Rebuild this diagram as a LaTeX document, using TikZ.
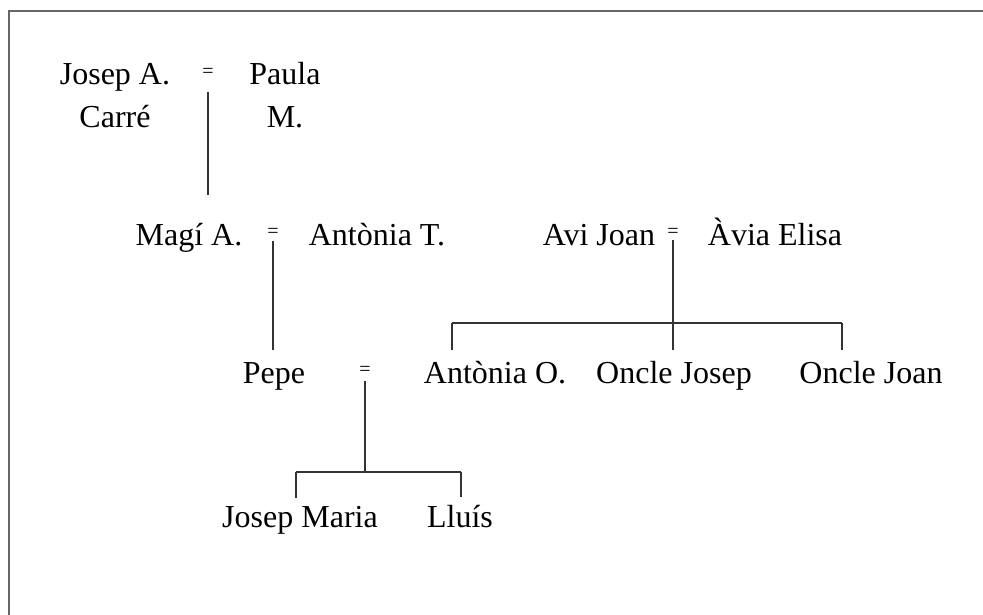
\documentclass[tikz,border=0pt]{standalone}
\usepackage{fontspec}
\setmainfont{Liberation Serif}
\usetikzlibrary{positioning}
\tikzset{
  person/.style={anchor=base,inner sep=0pt,align=center,font=\fontsize{32}{43}\selectfont},
  wed/.style={inner sep=0pt,font=\fontsize{20}{20}\selectfont},
  kin/.style={line width=1.2pt,draw=black!80},
}

\begin{document}
\begin{tikzpicture}[x=1pt,y=-1pt]
    \useasboundingbox (0,0) rectangle (983,615);
    % frame
    \draw[line width=1.6pt,black!60] (9,615) -- (9,11) -- (983,11);

    % first generation
    \node[person] (josep) at (115,128) {Josep A.\\Carr\'e};
    \node[wed] (w1) at (208,73) {=};
    \node[person] (paula) at (285,128) {Paula\\M.};

    % second generation
    \node[person] (magi) at (189,245) {Mag\'i A.};
    \node[wed] (w2) at (273,233) {=};
    \node[person] (antoniat) at (377,245) {Ant\`onia T.};
    \node[person] (avi) at (599,245) {Avi Joan};
    \node[wed] (w3) at (673,233) {=};
    \node[person] (avia) at (775,245) {\`Avia Elisa};

    % third generation
    \node[person] (pepe) at (274,383) {Pepe};
    \node[wed] (w4) at (365,371) {=};
    \node[person] (antoniao) at (495,383) {Ant\`onia O.};
    \node[person] (josepo) at (674,383) {Oncle Josep};
    \node[person] (joano) at (871,383) {Oncle Joan};

    % fourth generation
    \node[person] (jmaria) at (300,527) {Josep Maria};
    \node[person] (lluis) at (460,527) {Llu\'is};

    % bars and drops
    \coordinate (c1) at (208,195);
    \coordinate (bar3l) at (452,323);
    \coordinate (bar3r) at (842,323);
    \coordinate (bar4) at (365,472);
    \coordinate (bar4l) at (296,472);
    \coordinate (bar4r) at (461,472);

    % lines
    \draw[kin,shorten <=14pt] (w1) -- (c1);
    \draw[kin,shorten <=3pt,shorten >=12pt] (w2) -- (w2 |- pepe.north);
    \draw[kin,shorten <=2pt,shorten >=11pt] (w3) -- (w3 |- josepo.north);
    \draw[kin] (bar3l) -- (bar3r);
    \draw[kin,shorten >=11pt] (bar3l) -- (bar3l |- antoniao.north);
    \draw[kin,shorten >=11pt] (bar3r) -- (bar3r |- joano.north);
    \draw[kin,shorten <=5pt] (w4) -- (bar4);
    \draw[kin] (bar4l) -- (bar4r);
    \draw[kin,shorten >=8pt] (bar4l) -- (bar4l |- jmaria.north);
    \draw[kin,shorten >=8pt] (bar4r) -- (bar4r |- lluis.north);
\end{tikzpicture}
\end{document}
